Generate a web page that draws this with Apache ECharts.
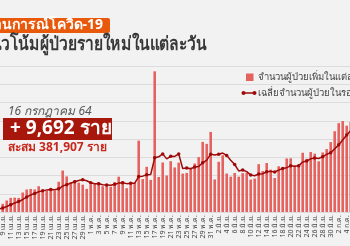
<!DOCTYPE html>
<html><head><meta charset="utf-8">
<script src="https://cdn.jsdelivr.net/npm/echarts@6/dist/echarts.min.js"></script>
<style>html,body{margin:0;padding:0;background:#f2f2f2;}#c{width:350px;height:246px;}</style>
</head><body><div id="c"></div>
<script>
const dates = [
'1 เม.ย.','2 เม.ย.','3 เม.ย.','4 เม.ย.','5 เม.ย.','6 เม.ย.','7 เม.ย.','8 เม.ย.','9 เม.ย.','10 เม.ย.','11 เม.ย.','12 เม.ย.','13 เม.ย.','14 เม.ย.','15 เม.ย.','16 เม.ย.','17 เม.ย.','18 เม.ย.','19 เม.ย.','20 เม.ย.','21 เม.ย.','22 เม.ย.','23 เม.ย.','24 เม.ย.','25 เม.ย.','26 เม.ย.','27 เม.ย.','28 เม.ย.','29 เม.ย.','30 เม.ย.',
'1 พ.ค.','2 พ.ค.','3 พ.ค.','4 พ.ค.','5 พ.ค.','6 พ.ค.','7 พ.ค.','8 พ.ค.','9 พ.ค.','10 พ.ค.','11 พ.ค.','12 พ.ค.','13 พ.ค.','14 พ.ค.','15 พ.ค.','16 พ.ค.','17 พ.ค.','18 พ.ค.','19 พ.ค.','20 พ.ค.','21 พ.ค.','22 พ.ค.','23 พ.ค.','24 พ.ค.','25 พ.ค.','26 พ.ค.','27 พ.ค.','28 พ.ค.','29 พ.ค.','30 พ.ค.','31 พ.ค.',
'1 มิ.ย.','2 มิ.ย.','3 มิ.ย.','4 มิ.ย.','5 มิ.ย.','6 มิ.ย.','7 มิ.ย.','8 มิ.ย.','9 มิ.ย.','10 มิ.ย.','11 มิ.ย.','12 มิ.ย.','13 มิ.ย.','14 มิ.ย.','15 มิ.ย.','16 มิ.ย.','17 มิ.ย.','18 มิ.ย.','19 มิ.ย.','20 มิ.ย.','21 มิ.ย.','22 มิ.ย.','23 มิ.ย.','24 มิ.ย.','25 มิ.ย.','26 มิ.ย.','27 มิ.ย.','28 มิ.ย.','29 มิ.ย.','30 มิ.ย.',
'1 ก.ค.','2 ก.ค.','3 ก.ค.','4 ก.ค.','5 ก.ค.','6 ก.ค.','7 ก.ค.','8 ก.ค.','9 ก.ค.','10 ก.ค.','11 ก.ค.','12 ก.ค.','13 ก.ค.','14 ก.ค.','15 ก.ค.','16 ก.ค.'
];
const dailyCases = [
26,84,89,96,194,250,334,405,559,789,967,985,965,1335,1543,1582,1547,1767,1390,1443,1458,1470,2070,2839,2438,2048,2179,2012,1871,1583,
1891,1940,2041,1763,1911,1732,2044,2419,2101,1630,1919,1983,4887,2256,3095,2200,9635,2400,3394,2500,3481,3052,3382,2630,2675,3031,3323,3759,4803,4668,5485,
2230,3440,3886,2635,2419,2671,2419,2662,2680,2219,2290,3277,2804,3355,2900,2331,3129,3058,3667,3682,3175,3174,4059,3644,4108,3995,3473,4077,4306,4786,
5533,6087,6230,5916,6166,5420,6519,7058,9276,9326,8656,8685,8685,9317,9186,9692
];
const avg7 = [
null,null,null,null,null,null,null,207,275,375,500,613,715,858,1020,1167,1275,1389,1447,1515,1533,1522,1592,1777,1873,1967,2072,2151,2208,2139,
2003,1932,1931,1872,1857,1837,1903,1979,2002,1943,1965,1975,2426,2456,2553,2567,3711,3779,3981,3640,3815,3809,3978,2977,3016,2964,3082,3122,3372,3556,3963,
3900,3958,4039,3878,3538,3252,2814,2876,2767,2529,2480,2603,2622,2755,2789,2739,2869,2979,3035,3160,3135,3174,3421,3494,3644,3691,3661,3790,3952,4056,
4325,4608,4927,5276,5575,5734,5982,6199,6655,7097,7489,7849,8315,8715,9019,9078
];
const legendNames = ['จำนวนผู้ป่วยเพิ่มในแต่ละวัน','เฉลี่ยจำนวนผู้ป่วยในรอบ 7 วัน'];
const titleTag = 'สถานการณ์โควิด-19';
const titleMain = 'แนวโน้มผู้ป่วยรายใหม่ในแต่ละวัน';
const infoDate = '16 กรกฎาคม 64';
const infoNew = '+ 9,692 ราย';
const infoTotal = 'สะสม 381,907 ราย';

const FONT = "'Noto Sans', sans-serif";
const chart = echarts.init(document.getElementById('c'), null, {renderer:'canvas'});
chart.setOption({
  backgroundColor:'#f2f2f2',
  animation:false,
  grid:{left:-31.3, width:428, top:66, bottom:34, containLabel:false, outerBoundsMode:'none'},
  xAxis:{type:'category', data:dates, boundaryGap:true,
    axisLine:{show:false}, axisTick:{show:false},
    axisLabel:{interval:1, rotate:90, fontSize:7, color:'#444', margin:3, fontFamily:FONT, hideOverlap:false}},
  yAxis:{type:'value', min:0, max:10000, interval:1250,
    axisLabel:{show:false}, axisLine:{show:false}, axisTick:{show:false},
    splitLine:{lineStyle:{color:'#dcdcdc', width:1}}},
  series:[
    {name:legendNames[0], type:'bar', data:dailyCases, barWidth:2.6, itemStyle:{color:'#e6625f'}},
    {name:legendNames[1], type:'line', data:avg7, symbol:'circle', symbolSize:3.5, showSymbol:true,
      lineStyle:{color:'#9e0a0a', width:1.5}, itemStyle:{color:'#9e0a0a'}, z:5}
  ],
  graphic:[
    {type:'rect', shape:{x:-10, y:18, width:120, height:15, r:2}, style:{fill:'#e8590c'}},
    {type:'text', style:{text:titleTag, x:103, y:25.5, align:'right', verticalAlign:'middle', fill:'#fff', font:"bold 14px "+FONT}},
    {type:'text', x:207, y:45, scaleX:0.82, style:{text:titleMain, x:0, y:0, align:'right', verticalAlign:'middle', fill:'#383838', font:"bold 19px "+FONT}},
    {type:'rect', shape:{x:246, y:73.5, width:7.5, height:7.5}, style:{fill:'#e6625f'}},
    {type:'text', style:{text:legendNames[0], x:258, y:77, verticalAlign:'middle', fill:'#444', font:"9.5px "+FONT}},
    {type:'line', shape:{x1:243, y1:93, x2:255, y2:93}, style:{stroke:'#9e0a0a', lineWidth:1.5}},
    {type:'circle', shape:{cx:243.5, cy:93, r:2}, style:{fill:'#9e0a0a'}},
    {type:'circle', shape:{cx:254.5, cy:93, r:2}, style:{fill:'#9e0a0a'}},
    {type:'text', style:{text:legendNames[1], x:258, y:93, verticalAlign:'middle', fill:'#444', font:"9.5px "+FONT}},
    {type:'text', style:{text:infoDate, x:8, y:112, verticalAlign:'middle', fill:'#555', font:"italic 12px "+FONT}},
    {type:'rect', shape:{x:3, y:118, width:109, height:22}, style:{fill:'#a8170b'}, z:10},
    {type:'text', style:{text:infoNew, x:10, y:129, verticalAlign:'middle', fill:'#fff', font:"bold 19px "+FONT}, z:11},
    {type:'text', style:{text:infoTotal, x:8, y:148, verticalAlign:'middle', fill:'#c8281c', font:"bold 12px "+FONT}, z:11}
  ]
});
</script></body></html>
